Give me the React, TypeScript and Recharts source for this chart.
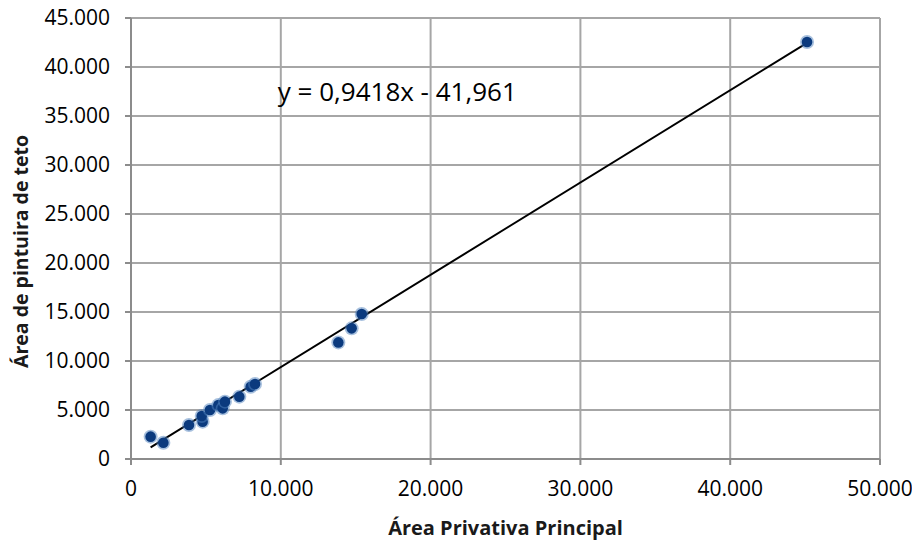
import React from "react";
import {
  ScatterChart,
  Scatter,
  XAxis,
  YAxis,
  CartesianGrid,
  ReferenceLine,
  ReferenceDot,
} from "recharts";

// Área privativa principal (x) vs área de pintura de teto (y)
const areaPrivativa = [
  1310, 2160, 3870, 4780, 4720, 5270, 5830, 6120, 6270, 7230, 7990, 8280,
  13840, 14730, 15400, 45130,
];
const areaPintura = [
  2280, 1660, 3470, 3810, 4390, 5000, 5500, 5170, 5850, 6360, 7380, 7650,
  11900, 13330, 14800, 42550,
];

const xTicks = [0, 10000, 20000, 30000, 40000, 50000];
const yTicks = [0, 5000, 10000, 15000, 20000, 25000, 30000, 35000, 40000, 45000];

// Linear trend: y = 0,9418x - 41,961
const slope = 0.9418;
const intercept = -41.961;
const equationText = "y = 0,9418x - 41,961";

const points = areaPrivativa.map((x, i) => ({ x, y: areaPintura[i] }));
const xMin = Math.min(...areaPrivativa);
const xMax = Math.max(...areaPrivativa);

const fmt = (v: number) =>
  String(Math.round(v)).replace(/\B(?=(\d{3})+(?!\d))/g, ".");

const FONT = "'Open Sans', sans-serif";

const Marker = (props: any) => {
  const { cx, cy } = props;
  return (
    <g>
      <circle cx={cx} cy={cy} r={7} fill="#4f81bd" fillOpacity={0.5} />
      <circle cx={cx} cy={cy} r={5.3} fill="#0b3a7e" />
    </g>
  );
};

const YTitle = (props: any) => {
  const vb = props.viewBox || {};
  const cx = 20;
  const cy = vb.y + vb.height / 2 + 13;
  return (
    <text
      x={cx}
      y={cy}
      transform={`rotate(-90 ${cx} ${cy})`}
      textAnchor="middle"
      dominantBaseline="central"
      fill="#1a1a1a"
      fontSize={19.5}
      fontWeight={700}
      fontFamily={FONT}
    >
      Área de pintuira de teto
    </text>
  );
};

const XTitle = (props: any) => {
  const vb = props.viewBox || {};
  return (
    <text
      x={vb.x + vb.width / 2}
      y={527}
      textAnchor="middle"
      dominantBaseline="central"
      fill="#1a1a1a"
      fontSize={20}
      fontWeight={700}
      fontFamily={FONT}
    >
      Área Privativa Principal
    </text>
  );
};

export default function App() {
  return (
    <div style={{ margin: "-8px 0 0 -8px", width: 920, height: 543, background: "#fff" }}>
      <ScatterChart
        width={920}
        height={543}
        margin={{ top: 18, right: 40, left: 0, bottom: 0 }}
      >
        <CartesianGrid stroke="#a6a6a6" strokeWidth={2} />
        <XAxis
          type="number"
          dataKey="x"
          domain={[0, 50000]}
          ticks={xTicks}
          tickFormatter={fmt}
          height={84}
          stroke="#8c8c8c"
          strokeWidth={2}
          tickSize={6}
          tickMargin={16}
          tick={{ fill: "#000", fontSize: 21, fontFamily: FONT }}
          label={<XTitle />}
        />
        <YAxis
          type="number"
          dataKey="y"
          domain={[0, 45000]}
          ticks={yTicks}
          tickFormatter={fmt}
          width={131}
          stroke="#8c8c8c"
          strokeWidth={2}
          tickSize={6}
          tickMargin={15}
          tick={{ fill: "#000", fontSize: 21, fontFamily: FONT }}
          label={<YTitle />}
        />
        <ReferenceLine
          segment={[
            { x: xMin, y: slope * xMin + intercept },
            { x: xMax, y: slope * xMax + intercept },
          ]}
          stroke="#000"
          strokeWidth={2}
          ifOverflow="visible"
        />
        <Scatter
          data={points}
          shape={<Marker />}
          isAnimationActive={false}
        />
        <ReferenceDot
          x={9800}
          y={37600}
          r={0}
          ifOverflow="visible"
          label={(p: any) => {
            const vb = p.viewBox || {};
            return (
              <text
                x={vb.x}
                y={vb.y}
                dominantBaseline="central"
                fill="#000"
                fontSize={26}
                fontFamily={FONT}
              >
                {equationText}
              </text>
            );
          }}
        />
      </ScatterChart>
    </div>
  );
}
